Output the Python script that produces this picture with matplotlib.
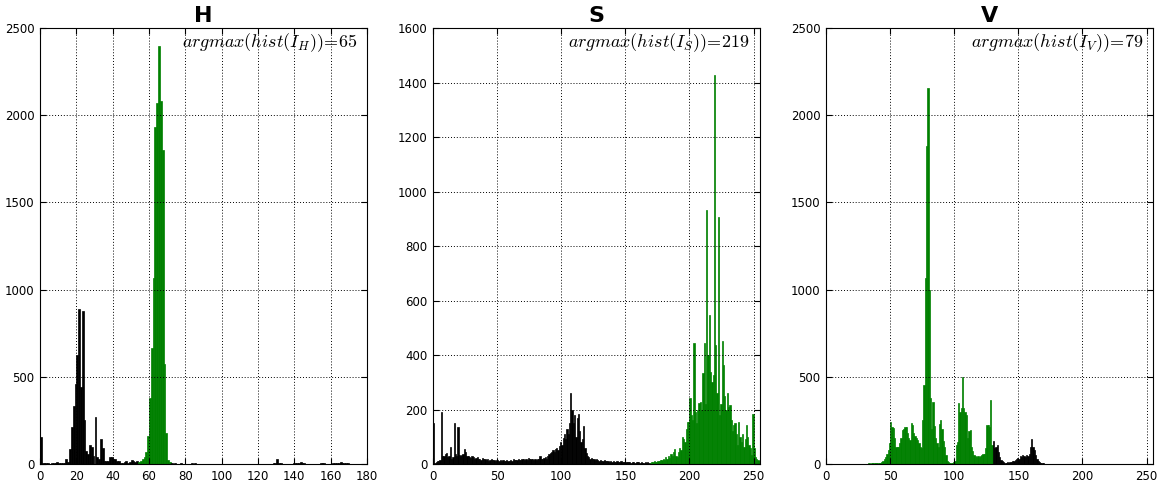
import numpy as np
import matplotlib
matplotlib.use('Agg')
import matplotlib.pyplot as plt

plt.rcParams['mathtext.fontset'] = 'cm'

# histogram counts, one value per bin
h_counts = [
    155, 4, 3, 4, 3, 2, 3, 4, 5, 12,
    6, 5, 6, 8, 27, 12, 88, 214, 332, 457,
    623, 890, 440, 880, 250, 75, 60, 110, 100, 45,
    270, 40, 30, 145, 90, 20, 15, 15, 40, 40,
    30, 30, 20, 15, 5, 8, 10, 15, 8, 12,
    25, 15, 10, 20, 10, 20, 30, 40, 70, 160,
    380, 665, 1065, 1930, 2070, 2395, 2080, 1800, 575, 180,
    25, 10, 3, 2, 3, 2, 2, 3, 2, 2,
    2, 1, 2, 3, 2, 4, 2, 1, 2, 1,
    1, 2, 1, 2, 1, 1, 2, 1, 1, 2,
    1, 1, 2, 1, 1, 1, 2, 1, 1, 1,
    2, 1, 1, 1, 2, 1, 1, 1, 1, 2,
    1, 1, 1, 2, 1, 1, 1, 2, 3, 5,
    30, 8, 3, 2, 1, 2, 1, 1, 2, 3,
    4, 5, 6, 10, 6, 3, 2, 1, 1, 2,
    1, 2, 1, 2, 3, 4, 3, 2, 1, 2,
    2, 3, 4, 6, 8, 10, 6, 4, 5, 3,
    2, 1, 2, 1, 1, 2, 1, 1, 1, 1,
]

s_counts = [
    150, 5, 8, 12, 10, 15, 190, 30, 28, 35,
    39, 25, 30, 61, 20, 25, 149, 35, 30, 134,
    33, 30, 32, 35, 54, 45, 30, 28, 25, 22,
    28, 25, 20, 22, 25, 18, 20, 15, 22, 18,
    20, 15, 18, 12, 15, 20, 13, 15, 12, 16,
    14, 12, 15, 10, 13, 11, 12, 14, 10, 12,
    15, 12, 18, 14, 16, 13, 20, 15, 14, 18,
    20, 16, 18, 15, 22, 18, 20, 17, 15, 18,
    16, 20, 18, 28, 20, 18, 22, 25, 20, 30,
    35, 40, 45, 50, 45, 55, 60, 50, 65, 80,
    70, 95, 110, 90, 130, 110, 150, 260, 200, 150,
    180, 100, 170, 185, 120, 80, 90, 140, 60, 40,
    30, 25, 20, 22, 18, 20, 15, 18, 14, 12,
    15, 12, 10, 13, 11, 10, 12, 9, 10, 8,
    10, 9, 8, 12, 9, 7, 10, 8, 9, 7,
    8, 6, 7, 6, 5, 7, 6, 5, 8, 6,
    6, 5, 6, 4, 5, 6, 5, 7, 4, 5,
    8, 6, 10, 8, 9, 12, 10, 15, 13, 18,
    16, 25, 20, 30, 22, 35, 28, 45, 55, 30,
    27, 45, 60, 50, 100, 90, 82, 130, 155, 155,
    241, 180, 160, 443, 190, 150, 200, 223, 229, 200,
    333, 443, 220, 932, 400, 546, 339, 300, 327, 1427,
    437, 260, 905, 180, 220, 450, 364, 250, 200, 260,
    210, 216, 160, 120, 143, 150, 110, 70, 155, 100,
    82, 110, 64, 90, 143, 100, 70, 60, 33, 185,
    60, 27, 20, 15, 10,
]

v_counts = [
    2, 2, 2, 2, 2, 2, 2, 2, 2, 2,
    2, 2, 2, 2, 2, 2, 2, 2, 2, 2,
    2, 2, 2, 2, 2, 2, 2, 2, 2, 2,
    2, 2, 2, 3, 2, 3, 3, 4, 3, 4,
    5, 6, 8, 12, 20, 30, 40, 55, 80, 120,
    243, 210, 205, 150, 100, 95, 100, 120, 150, 195,
    200, 214, 210, 180, 147, 138, 233, 225, 176, 160,
    150, 140, 118, 100, 90, 250, 453, 1064, 1823, 2154,
    998, 380, 200, 355, 220, 150, 120, 100, 230, 255,
    200, 130, 100, 50, 20, 10, 5, 3, 5, 10,
    20, 109, 128, 348, 300, 320, 500, 319, 300, 280,
    147, 190, 195, 99, 75, 52, 48, 42, 45, 40,
    45, 50, 55, 60, 90, 224, 225, 214, 367, 110,
    130, 90, 100, 110, 70, 40, 25, 15, 10, 8,
    7, 10, 8, 12, 10, 15, 20, 25, 30, 35,
    30, 45, 40, 50, 45, 40, 50, 45, 60, 100,
    145, 100, 80, 50, 30, 20, 12, 8, 5, 3,
    2, 1, 1, 0, 0, 0, 0, 0, 0, 0,
] + [0] * 75

# bins drawn in green (inclusive range around the peak)
h_green = (54, 71)
s_green = (169, 254)
v_green = (30, 129)

titles = ['H', 'S', 'V']
labels = [r'$argmax(hist(I_H))\!=\!65$', r'$argmax(hist(I_S))\!=\!219$',
          r'$argmax(hist(I_V))\!=\!79$']
xmaxes = [180, 255, 255]
ymaxes = [2500, 1600, 2500]
xticks = [np.arange(0, 181, 20), np.arange(0, 251, 50), np.arange(0, 251, 50)]
yticks = [np.arange(0, 2501, 500), np.arange(0, 1601, 200), np.arange(0, 2501, 500)]

fig = plt.figure(figsize=(11.68, 4.86), dpi=100)
lefts = [40 / 1168, 433 / 1168, 826 / 1168]

for i, counts in enumerate([h_counts, s_counts, v_counts]):
    ax = fig.add_axes([lefts[i], 22 / 486, 327 / 1168, 436 / 486])
    counts = np.array(counts)
    bins = np.arange(len(counts))
    lo, hi = [h_green, s_green, v_green][i]
    colors = np.where((bins >= lo) & (bins <= hi), 'g', 'k')
    ax.bar(bins, counts, width=1, align='edge', color=colors,
           edgecolor=colors, linewidth=0.5)
    ax.set_xlim(0, xmaxes[i])
    ax.set_ylim(0, ymaxes[i])
    ax.set_xticks(xticks[i])
    ax.set_yticks(yticks[i])
    ax.tick_params(direction='in', top=True, right=True, length=4,
                   labelsize=8.5, pad=4)
    ax.grid(True, linestyle=(0, (1, 2)), color='k', linewidth=0.7)
    ax.set_axisbelow(False)
    ax.set_title(titles[i], fontsize=16, fontweight='bold', pad=4)
    ax.text(0.97, 0.992, labels[i], transform=ax.transAxes,
            ha='right', va='top', fontsize=13)

fig.savefig('out.png', dpi=100)
